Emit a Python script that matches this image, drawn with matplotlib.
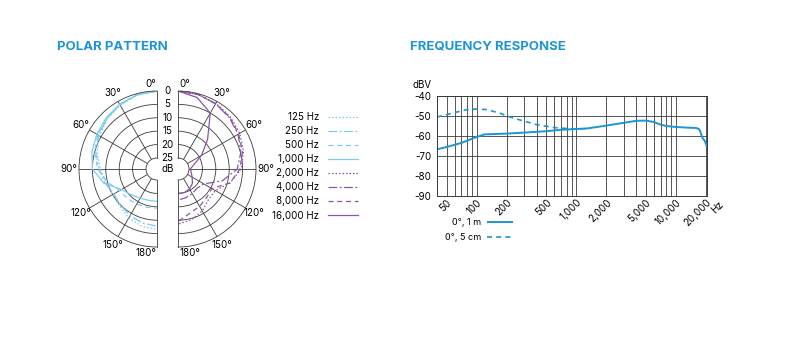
import numpy as np
import matplotlib
matplotlib.use("Agg")
import matplotlib.pyplot as plt
from matplotlib.lines import Line2D
from matplotlib.ticker import LogLocator, NullFormatter

plt.rcParams['font.family'] = ['Inter', 'DejaVu Sans']
plt.rcParams['axes.unicode_minus'] = False

# ---- polar pattern data (attenuation in dB, 0 = on-axis) ----
angles = [0, 15, 30, 45, 60, 75, 90, 105, 120, 135, 150, 165, 180]

att_125 = [0, 0.5, 1.5, 2.8, 4.2, 6.0, 8.0, 9.5, 10.0, 9.5, 8.0, 7.0, 6.5]
att_250 = [0, 0.5, 1.5, 2.6, 4.0, 5.5, 7.5, 9.0, 10.5, 10.0, 9.0, 8.2, 7.8]
att_500 = [0, 0.4, 1.3, 2.4, 3.6, 5.0, 7.0, 10.0, 13.0, 13.5, 14.0, 14.3, 14.5]
att_1000 = [0, 0.4, 1.2, 2.2, 3.2, 4.0, 5.0, 8.6, 13.8, 15.5, 16.5, 17.0, 17.0]

att_2000 = [0, 0.3, 0.8, 1.5, 2.5, 3.8, 5.5, 9.0, 13.0, 13.0, 11.0, 9.5, 8.5]
att_4000 = [0, 0.3, 1.0, 2.0, 3.2, 4.8, 7.0, 12.0, 18.0, 19.0, 18.5, 18.0, 17.5]
att_8000 = [0, 0.3, 1.0, 1.8, 3.0, 4.2, 6.0, 9.0, 14.5, 14.0, 13.0, 12.0, 9.5]
att_16000 = [0, 1.5, 5.0, 13.5, 19.0, 23.0, 24.5, 24.0, 23.0, 21.5, 20.5, 20.0, 20.0]

polar_labels = ['125 Hz', '250 Hz', '500 Hz', '1,000 Hz',
                '2,000 Hz', '4,000 Hz', '8,000 Hz', '16,000 Hz']
ring_labels = ['0', '5', '10', '15', '20', '25']
ring_db = [0, 5, 10, 15, 20, 25]
angle_ticks = [30, 60, 90, 120, 150]

# ---- frequency response data ----
freq_1m = [40, 50, 70, 100, 120, 200, 300, 500, 700, 1000, 1300, 2000, 3000,
           4000, 5000, 6000, 7000, 8000, 10000, 13000, 16000, 17000, 17500,
           18000, 18500, 19500, 20500]
lvl_1m = [-66.7, -65.5, -63.5, -60.5, -59.2, -58.8, -58.3, -57.6, -56.9, -56.5,
          -56.2, -54.8, -53.4, -52.4, -52.3, -53.0, -54.3, -55.0, -55.5, -55.8,
          -56.0, -56.5, -57.5, -59.5, -61.0, -62.5, -65.5]

freq_5cm = [40, 50, 60, 80, 100, 125, 170, 200, 300, 400, 600, 1000, 1300]
lvl_5cm = [-50.5, -49.3, -48.3, -46.8, -46.5, -46.8, -48.5, -50.0, -52.6,
           -54.3, -55.8, -56.6, -56.2]

fr_ticks = [50, 100, 200, 500, 1000, 2000, 5000, 10000, 20000]
fr_ticklabels = ['50', '100', '200', '500', '1,000', '2,000', '5,000', '10,000', '20,000']

BLUE = '#1b96d3'
CYAN = '#7ccbf0'
PURPLE = '#8a55a6'
GRID = '#3a3a3a'

DOT = (0, (1.2, 1.6))
DASHDOT = (0, (7, 2, 1.5, 2))
DASH = (0, (4, 3))
SOLID = '-'

FS = 7

fig = plt.figure(figsize=(8, 3.6), dpi=100)

fig.text(57 / 800, 1 - 47 / 360, 'POLAR PATTERN', fontsize=9.5, fontweight='bold',
         color=BLUE, va='center')
fig.text(410 / 800, 1 - 47 / 360, 'FREQUENCY RESPONSE', fontsize=9.5, fontweight='bold',
         color=BLUE, va='center')

R_ORIGIN = -25 - 11 / 67 * 25
R_PX = 78          # outer radius in pixels
CY = 169           # centre row in pixels


def polar_half(cx, side):
    # side = -1: left half (angles go counter-clockwise from top)
    # side = +1: right half (angles go clockwise from top)
    # the wedge bbox is squared by matplotlib, so the axes is a square of 2R
    frac = 0.75 if side == -1 else 0.25
    left = cx - frac * 2 * R_PX
    ax = fig.add_axes([left / 800, (360 - CY - R_PX) / 360, 2 * R_PX / 800, 2 * R_PX / 360],
                      projection='polar')
    if side == -1:
        ax.set_thetamin(90)
        ax.set_thetamax(270)
    else:
        ax.set_thetamin(-90)
        ax.set_thetamax(90)
    ax.set_ylim(-25, 0)
    ax.set_rorigin(R_ORIGIN)
    ax.set_yticks([-20, -15, -10, -5])
    ax.set_yticklabels([])
    ax.set_thetagrids([90 - side * a for a in angle_ticks], labels=[])
    ax.grid(color=GRID, lw=0.6)
    ax.tick_params(length=0)
    for sp in ax.spines.values():
        sp.set_color(GRID)
        sp.set_linewidth(0.6)
    ha = 'right' if side == -1 else 'left'
    for a in angle_ticks:
        ax.text(np.deg2rad(90 - side * a), 3.7, f'{a}°', ha='center', va='center',
                fontsize=FS)
    ax.annotate('0°', xy=(np.pi / 2, 0), xytext=(side * 1, 7), textcoords='offset pixels',
                ha=ha, va='center', fontsize=FS)
    ax.annotate('180°', xy=(-np.pi / 2, 0), xytext=(side * 1, -6),
                textcoords='offset pixels', ha=ha, va='center', fontsize=FS)
    return ax


axl = polar_half(157, -1)
axr = polar_half(178, 1)

ang = np.array(angles, dtype=float)
th_left = np.deg2rad(90 + ang)
th_right = np.deg2rad(90 - ang)

styles = [DOT, DASHDOT, DASH, SOLID]
handles = []
for att, ls in zip([att_125, att_250, att_500, att_1000], styles):
    axl.plot(th_left, -np.array(att), color=CYAN, lw=0.9, linestyle=ls)
    handles.append(Line2D([], [], color=CYAN, lw=0.9, linestyle=ls))
for att, ls in zip([att_2000, att_4000, att_8000, att_16000], styles):
    axr.plot(th_right, -np.array(att), color=PURPLE, lw=0.9, linestyle=ls)
    handles.append(Line2D([], [], color=PURPLE, lw=0.9, linestyle=ls))

for lab, db in zip(ring_labels, ring_db):
    axr.annotate(lab, xy=(np.pi / 2, -db), xytext=(-10.5, 0), textcoords='offset pixels',
                 ha='center', va='center', fontsize=FS, annotation_clip=False)
axr.annotate('dB', xy=(np.pi / 2, R_ORIGIN), xytext=(-10.5, 0), textcoords='offset pixels',
             ha='center', va='center', fontsize=FS, annotation_clip=False)

fig.legend(handles, polar_labels, loc='upper right',
           bbox_to_anchor=(358 / 800, 1 - 112 / 360), frameon=False,
           markerfirst=False, fontsize=FS, handlelength=3.1, handletextpad=0.9,
           labelspacing=0.42, borderaxespad=0, borderpad=0)

# ---- frequency response ----
ax2 = fig.add_axes([437 / 800, 164 / 360, 270 / 800, 100 / 360])
ax2.set_xscale('log')
ax2.set_xlim(40, 20500)
ax2.set_ylim(-90, -40)
ax2.set_yticks([-90, -80, -70, -60, -50, -40])
ax2.set_xticks(fr_ticks)
ax2.set_xticklabels(fr_ticklabels, rotation=45, ha='right', rotation_mode='anchor')
ax2.xaxis.set_minor_locator(LogLocator(base=10, subs=np.arange(1, 10), numticks=20))
ax2.xaxis.set_minor_formatter(NullFormatter())
ax2.tick_params(which='both', length=0, labelsize=FS)
ax2.tick_params(axis='x', pad=1)
ax2.tick_params(axis='y', pad=4)
ax2.grid(which='both', axis='x', color=GRID, lw=0.6)
ax2.grid(which='major', axis='y', color=GRID, lw=0.6)
for sp in ax2.spines.values():
    sp.set_color(GRID)
    sp.set_linewidth(0.7)

l1, = ax2.plot(freq_1m, lvl_1m, color=BLUE, lw=1.4, solid_capstyle='butt')
l2, = ax2.plot(freq_5cm, lvl_5cm, color=BLUE, lw=1.2, linestyle=(0, (3, 2.5)))

ax2.text(-0.054, 1.11, 'dBV', transform=ax2.transAxes, ha='center', va='center',
         fontsize=FS)
ax2.text(1.04, -0.11, 'Hz', transform=ax2.transAxes, ha='center', va='center',
         rotation=45, fontsize=FS)

fig.legend([l1, l2], ['0°, 1 m', '0°, 5 cm'], loc='upper right',
           bbox_to_anchor=(513 / 800, 1 - 218 / 360), frameon=False,
           markerfirst=False, fontsize=6.5, handlelength=2.9, handletextpad=0.6,
           labelspacing=0.65, borderaxespad=0, borderpad=0)

fig.savefig('out.png', dpi=100, facecolor='white')
